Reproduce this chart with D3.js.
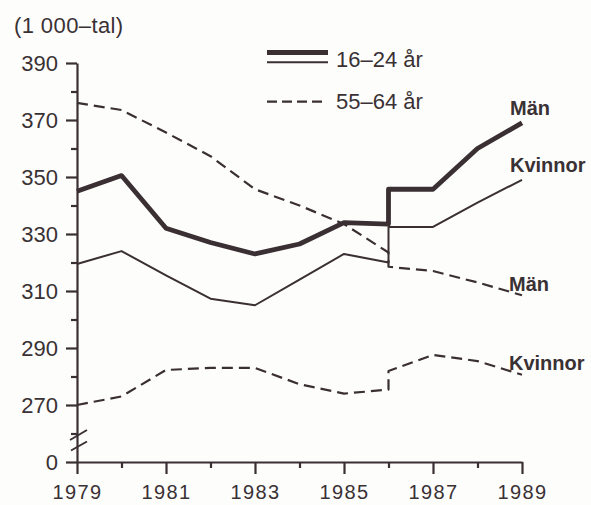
<!DOCTYPE html>
<html>
<head>
<meta charset="utf-8">
<script src="https://cdn.jsdelivr.net/npm/d3@7"></script>
<style>
  body { margin: 0; background: #fdfdfc; }
  svg { display: block; }
  text { font-family: "Liberation Sans", Arial, sans-serif; fill: #3a3134; }
</style>
</head>
<body>
<svg></svg>
<script>
// data, 1 000-tal; series break at 1986 (new survey)
const yearsBefore = [1979, 1980, 1981, 1982, 1983, 1984, 1985, 1986];
const yearsAfter = [1986, 1987, 1988, 1989];
const men1624Before = [345, 350.5, 332, 327, 323, 326.5, 334, 333.5];
const men1624After = [345.7, 345.7, 360, 369];
const women1624Before = [319.5, 324, 315.5, 307.3, 305, 314, 323, 320];
const women1624After = [332.5, 332.5, 341, 349];
const men5564Before = [376, 373.5, 365.6, 357.3, 345.7, 340, 333.5, 323.5];
const men5564After = [318.5, 317, 313, 308.5];
const women5564Before = [270, 273, 282.3, 283, 283, 277.3, 274, 275.4];
const women5564After = [281.9, 287.6, 285.4, 280.6];
const yTicks = [250, 270, 290, 310, 330, 350, 370, 390]; // 250 stands in for 0 below the break
const yMinor = [260, 280, 300, 320, 340, 360, 380];
const xTicks = [1979, 1981, 1983, 1985, 1987, 1989];
const xMinor = [1980, 1982, 1984, 1986, 1988];

const ink = '#3a2f33';
const width = 591, height = 505;
const svg = d3.select('svg').attr('width', width).attr('height', height);

const x = d3.scaleLinear().domain([1979, 1989]).range([77, 522]);
const y = d3.scaleLinear().domain([250, 390]).range([462, 63]);

const pts = (before, after) =>
  yearsBefore.map((yr, i) => [yr, before[i]]).concat(yearsAfter.map((yr, i) => [yr, after[i]]));

const line = d3.line().x(d => x(d[0])).y(d => y(d[1]));

// axes
const yAxis = svg.append('g').attr('transform', `translate(${x(1979)},0)`)
  .call(d3.axisLeft(y).tickValues(yTicks).tickSize(11).tickPadding(8).tickSizeOuter(0)
    .tickFormat(d => d === 250 ? '0' : d));
svg.append('g').attr('transform', `translate(${x(1979)},0)`)
  .call(d3.axisLeft(y).tickValues(yMinor).tickSize(6).tickFormat('').tickSizeOuter(0))
  .select('.domain').remove();

const xAxis = svg.append('g').attr('transform', `translate(0,${y(250)})`)
  .call(d3.axisBottom(x).tickValues(xTicks).tickSize(12).tickPadding(11).tickSizeOuter(0)
    .tickFormat(d3.format('d')));
svg.append('g').attr('transform', `translate(0,${y(250)})`)
  .call(d3.axisBottom(x).tickValues(xMinor).tickSize(6).tickFormat('').tickSizeOuter(0))
  .select('.domain').remove();

svg.selectAll('.domain, .tick line').attr('stroke', ink).attr('stroke-width', 2.2);
svg.selectAll('.tick text').style('font-family', '"Liberation Sans", Arial, sans-serif')
  .attr('fill', '#3a3134');
yAxis.selectAll('.tick text').style('font-size', '22px').attr('dy', '0.36em');
xAxis.selectAll('.tick text').style('font-size', '20px').style('letter-spacing', '1.4px');

// axis break marks
const brk = d3.path();
brk.moveTo(70, 440); brk.lineTo(87, 430);
brk.moveTo(71, 450.5); brk.lineTo(87, 441.5);
svg.append('path').attr('d', brk.toString()).attr('stroke', ink).attr('stroke-width', 2).attr('fill', 'none');

// series
const series = [
  { data: pts(women5564Before, women5564After), w: 2.2, dash: '11,6' },
  { data: pts(men5564Before, men5564After), w: 2.2, dash: '11,6' },
  { data: pts(women1624Before, women1624After), w: 2, dash: null },
  { data: pts(men1624Before, men1624After), w: 4.8, dash: null }
];
svg.append('g').selectAll('path').data(series).join('path')
  .attr('d', d => line(d.data))
  .attr('fill', 'none')
  .attr('stroke', ink)
  .attr('stroke-width', d => d.w)
  .attr('stroke-linejoin', 'round')
  .attr('stroke-dasharray', d => d.dash);

// end labels
const endLabels = [
  { text: 'Män', x: 510, y: 115 },
  { text: 'Kvinnor', x: 510, y: 172 },
  { text: 'Män', x: 509, y: 291 },
  { text: 'Kvinnor', x: 509, y: 370 }
];
svg.append('g').selectAll('text').data(endLabels).join('text')
  .attr('x', d => d.x).attr('y', d => d.y)
  .style('font-size', '20px').style('font-weight', 'bold')
  .text(d => d.text);

// unit
svg.append('text').attr('x', 14).attr('y', 33)
  .style('font-size', '22px').style('letter-spacing', '0.4px')
  .text('(1 000–tal)');

// legend
const lg = svg.append('g');
lg.append('line').attr('x1', 267).attr('x2', 328).attr('y1', 52.5).attr('y2', 52.5)
  .attr('stroke', ink).attr('stroke-width', 4.8);
lg.append('line').attr('x1', 267).attr('x2', 328).attr('y1', 62.3).attr('y2', 62.3)
  .attr('stroke', ink).attr('stroke-width', 2);
lg.append('text').attr('x', 336).attr('y', 67).style('font-size', '22px').text('16–24 år');
lg.append('line').attr('x1', 267).attr('x2', 323).attr('y1', 101.7).attr('y2', 101.7)
  .attr('stroke', ink).attr('stroke-width', 2.2).attr('stroke-dasharray', '10,5');
lg.append('text').attr('x', 336).attr('y', 109).style('font-size', '22px').text('55–64 år');
</script>
</body>
</html>
